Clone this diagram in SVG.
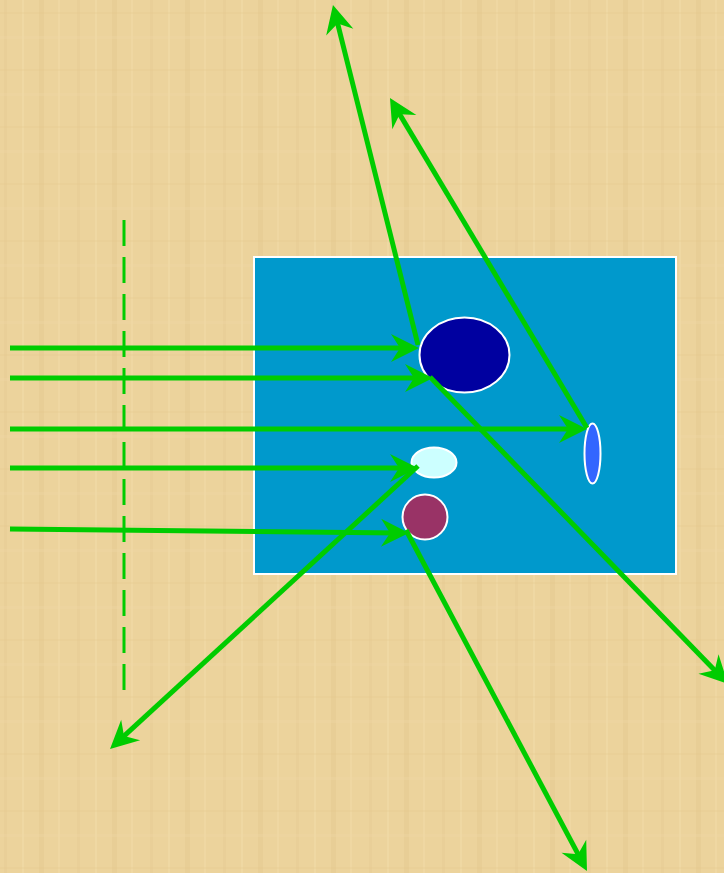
<svg xmlns="http://www.w3.org/2000/svg" width="724" height="873" viewBox="0 0 724 873">
<style>
.ray{stroke:#00CC00;stroke-width:5;fill:none;marker-end:url(#ah)}
.obj{stroke:#FFFFFF;stroke-width:2}
</style>
<defs>
<marker id="ah" markerUnits="userSpaceOnUse" markerWidth="40" markerHeight="40" viewBox="-20 -20 40 40" refX="0" refY="0" orient="auto" overflow="visible">
<path d="M10,0 L-18,-14 L-9,0 L-18,14 Z" fill="#00CC00"/>
</marker>
<pattern id="pap" width="73" height="57" patternUnits="userSpaceOnUse">
<rect width="73" height="57" fill="#ECD39C"/>
<rect x="4" width="3" height="57" fill="#E3C88E" opacity="0.35"/>
<rect x="22" width="2" height="57" fill="#F3DEAC" opacity="0.4"/>
<rect x="39" width="5" height="57" fill="#E0C389" opacity="0.3"/>
<rect x="58" width="2" height="57" fill="#F2DCAA" opacity="0.4"/>
<rect y="12" width="73" height="2" fill="#E2C68C" opacity="0.25"/>
<rect y="36" width="73" height="3" fill="#F1DAA8" opacity="0.3"/>
</pattern>
</defs>
<rect width="724" height="873" fill="url(#pap)"/>
<g id="lens-line">
<line x1="124" y1="220" x2="124" y2="690" stroke="#00CC00" stroke-width="3" stroke-dasharray="26 11"/>
</g>
<g id="body">
<rect x="254" y="257" width="422" height="317" fill="#0099CC" stroke="#FFFFFF" stroke-width="2"/>
</g>
<g id="obj-darkblue"><ellipse class="obj" cx="464.5" cy="355" rx="45" ry="37.5" fill="#0000A0"/></g>
<g id="obj-cyan"><ellipse class="obj" cx="434" cy="462.5" rx="22.5" ry="15" fill="#CCFFFF"/></g>
<g id="obj-maroon"><ellipse class="obj" cx="425" cy="517" rx="22.5" ry="22.5" fill="#993366"/></g>
<g id="obj-blue"><ellipse class="obj" cx="592.5" cy="453.5" rx="8" ry="30" fill="#3366FF"/></g>
<g id="connectors">
<line class="ray" x1="10" y1="348" x2="409" y2="348"/>
<line class="ray" x1="10" y1="378" x2="423" y2="378"/>
<line class="ray" x1="10" y1="429" x2="577" y2="429"/>
<line class="ray" x1="10" y1="468" x2="408" y2="468"/>
<line class="ray" x1="10" y1="529" x2="399" y2="533"/>
<line class="ray" x1="418" y1="345" x2="335.4" y2="14.7"/>
<line class="ray" x1="587" y1="428" x2="395.1" y2="106.6"/>
<line class="ray" x1="430" y1="377" x2="721" y2="676.8"/>
<line class="ray" x1="418" y1="466" x2="117.4" y2="742.2"/>
<line class="ray" x1="406" y1="530" x2="582.3" y2="862.2"/>
</g>
</svg>
